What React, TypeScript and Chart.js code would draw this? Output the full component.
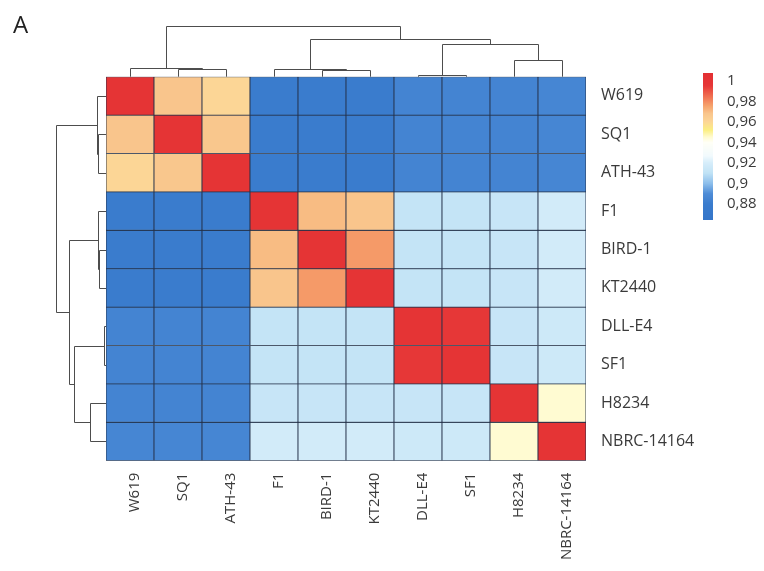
import React, { useEffect, useRef } from 'react';
import { Chart, registerables } from 'chart.js';

Chart.register(...registerables);

// ---- data ----
const strains = ['W619', 'SQ1', 'ATH-43', 'F1', 'BIRD-1', 'KT2440', 'DLL-E4', 'SF1', 'H8234', 'NBRC-14164'];

const identity: number[][] = [
  [1.000, 0.968, 0.960, 0.880, 0.880, 0.880, 0.885, 0.885, 0.885, 0.886],
  [0.968, 1.000, 0.967, 0.880, 0.880, 0.880, 0.885, 0.885, 0.885, 0.886],
  [0.960, 0.967, 1.000, 0.880, 0.880, 0.880, 0.885, 0.885, 0.885, 0.886],
  [0.880, 0.880, 0.880, 1.000, 0.970, 0.968, 0.912, 0.912, 0.913, 0.918],
  [0.880, 0.880, 0.880, 0.970, 1.000, 0.977, 0.912, 0.912, 0.913, 0.918],
  [0.880, 0.880, 0.880, 0.968, 0.977, 1.000, 0.912, 0.912, 0.913, 0.918],
  [0.885, 0.885, 0.885, 0.912, 0.912, 0.912, 1.000, 0.995, 0.913, 0.916],
  [0.885, 0.885, 0.885, 0.912, 0.912, 0.912, 0.995, 1.000, 0.913, 0.916],
  [0.885, 0.885, 0.885, 0.913, 0.913, 0.913, 0.913, 0.913, 1.000, 0.945],
  [0.886, 0.886, 0.886, 0.918, 0.918, 0.918, 0.916, 0.916, 0.945, 1.000],
];

// hierarchical clustering (node ids: leaves 0..9, merges 10..18)
const mergeLeft = [1, 0, 4, 3, 6, 8, 14, 13, 11];
const mergeRight = [2, 10, 5, 12, 7, 9, 15, 16, 17];
const mergeHeight = [0.16, 0.18, 0.14, 0.16, 0.04, 0.33, 0.65, 0.74, 1.0];

// colour scale
const stopValues = [0.86, 0.88, 0.89, 0.90, 0.91, 0.92, 0.927, 0.94, 0.945, 0.952, 0.96, 0.968, 0.975, 0.985, 0.995, 1.01];
const stopColors: number[][] = [
  [50, 115, 200], [58, 124, 205], [78, 140, 215], [140, 190, 235], [192, 226, 245], [214, 237, 250],
  [242, 250, 253], [255, 255, 246], [255, 251, 210], [251, 238, 130], [252, 214, 150], [249, 197, 140],
  [246, 165, 110], [240, 110, 80], [230, 55, 55], [226, 45, 50],
];
const colorbarTicks = [1, 0.98, 0.96, 0.94, 0.92, 0.9, 0.88];

function colorFor(v: number): string {
  if (v <= stopValues[0]) return `rgb(${stopColors[0].join(',')})`;
  for (let i = 1; i < stopValues.length; i++) {
    if (v <= stopValues[i]) {
      const t = (v - stopValues[i - 1]) / (stopValues[i] - stopValues[i - 1]);
      const a = stopColors[i - 1], b = stopColors[i];
      const c = a.map((x, k) => Math.round(x + (b[k] - x) * t));
      return `rgb(${c.join(',')})`;
    }
  }
  return `rgb(${stopColors[stopColors.length - 1].join(',')})`;
}

const FONT = '"Open Sans", "DejaVu Sans", sans-serif';
const TEXT = '#3a3a3a';

const decorPlugin = {
  id: 'decor',
  afterDraw(chart: any) {
    const ctx = chart.ctx as CanvasRenderingContext2D;
    const { left, top } = chart.chartArea;
    const xs = chart.scales.x;
    const ys = chart.scales.y;
    const n = strains.length;
    const colPos: number[] = [], rowPos: number[] = [], hTop: number[] = [], hLeft: number[] = [];
    for (let i = 0; i < n; i++) {
      colPos[i] = xs.getPixelForValue(i);
      rowPos[i] = ys.getPixelForValue(i + 0.5);
      hTop[i] = top;
      hLeft[i] = left;
    }
    const TOP_SCALE = 51;
    const LEFT_SCALE = 50;
    const snap = (p: number) => Math.round(p) + 0.5;
    ctx.save();
    ctx.strokeStyle = '#4d4d4d';
    ctx.lineWidth = 1;
    mergeLeft.forEach((a, k) => {
      const b = mergeRight[k];
      const id = n + k;
      const yH = top - mergeHeight[k] * TOP_SCALE;
      ctx.beginPath();
      ctx.moveTo(snap(colPos[a]), hTop[a]);
      ctx.lineTo(snap(colPos[a]), snap(yH));
      ctx.lineTo(snap(colPos[b]), snap(yH));
      ctx.lineTo(snap(colPos[b]), hTop[b]);
      ctx.stroke();
      colPos[id] = (colPos[a] + colPos[b]) / 2;
      hTop[id] = snap(yH);

      const xH = left - mergeHeight[k] * LEFT_SCALE;
      ctx.beginPath();
      ctx.moveTo(hLeft[a], snap(rowPos[a]));
      ctx.lineTo(snap(xH), snap(rowPos[a]));
      ctx.lineTo(snap(xH), snap(rowPos[b]));
      ctx.lineTo(hLeft[b], snap(rowPos[b]));
      ctx.stroke();
      rowPos[id] = (rowPos[a] + rowPos[b]) / 2;
      hLeft[id] = snap(xH);
    });

    // colour bar legend
    const cbX = 703, cbW = 10, cbTop = 73, cbBottom = 220;
    const vTop = 1.0075, vBottom = 0.8644;
    for (let y = cbTop; y < cbBottom; y++) {
      const v = vTop + ((y + 0.5 - cbTop) / (cbBottom - cbTop)) * (vBottom - vTop);
      ctx.fillStyle = colorFor(v);
      ctx.fillRect(cbX, y, cbW, 1);
    }
    ctx.fillStyle = TEXT;
    ctx.font = `15px ${FONT}`;
    ctx.textAlign = 'left';
    ctx.textBaseline = 'middle';
    colorbarTicks.forEach((t) => {
      const y = cbTop + ((t - vTop) / (vBottom - vTop)) * (cbBottom - cbTop);
      ctx.fillText(String(t).replace('.', ','), 727, y);
    });

    // panel letter
    ctx.fillStyle = '#222';
    ctx.font = `24px ${FONT}`;
    ctx.textBaseline = 'alphabetic';
    ctx.fillText('A', 13, 33);
    ctx.restore();
  },
};

export default function App() {
  const ref = useRef<HTMLCanvasElement>(null);
  useEffect(() => {
    document.body.style.margin = '0';
    const datasets = strains.map((name, r) => ({
      label: name,
      data: strains.map(() => [r, r + 1]),
      backgroundColor: identity[r].map(colorFor),
      borderColor: '#25324a',
      borderWidth: 0.8,
      borderSkipped: false,
      grouped: false,
      categoryPercentage: 1,
      barPercentage: 1,
    }));
    const chart = new Chart(ref.current as HTMLCanvasElement, {
      type: 'bar',
      data: { labels: strains, datasets: datasets as any },
      plugins: [decorPlugin],
      options: {
        animation: false,
        responsive: false,
        devicePixelRatio: 1,
        layout: { padding: { left: 106, top: 76.7, right: 58, bottom: 10.3 } },
        plugins: { legend: { display: false }, tooltip: { enabled: false } },
        scales: {
          x: {
            type: 'category',
            offset: true,
            grid: { display: false },
            border: { display: false },
            ticks: {
              autoSkip: false,
              minRotation: 90,
              maxRotation: 90,
              padding: 4,
              labelOffset: 5,
              color: TEXT,
              font: { family: FONT, size: 15 },
            },
            afterFit: (s: any) => { s.height = 100; },
          },
          y: {
            type: 'linear',
            position: 'right',
            min: 0,
            max: strains.length,
            reverse: true,
            grid: { display: false },
            border: { display: false },
            afterBuildTicks: (s: any) => { s.ticks = strains.map((_, i) => ({ value: i + 0.5 })); },
            ticks: {
              padding: 7,
              color: TEXT,
              font: { family: FONT, size: 16 },
              callback: (_v: any, i: number) => strains[i],
            },
            afterFit: (s: any) => { s.width = 120; },
          },
        },
      } as any,
    });
    return () => chart.destroy();
  }, []);
  return (
    <div style={{ width: 764, height: 571 }}>
      <canvas ref={ref} width={764} height={571} style={{ display: 'block' }} />
    </div>
  );
}
